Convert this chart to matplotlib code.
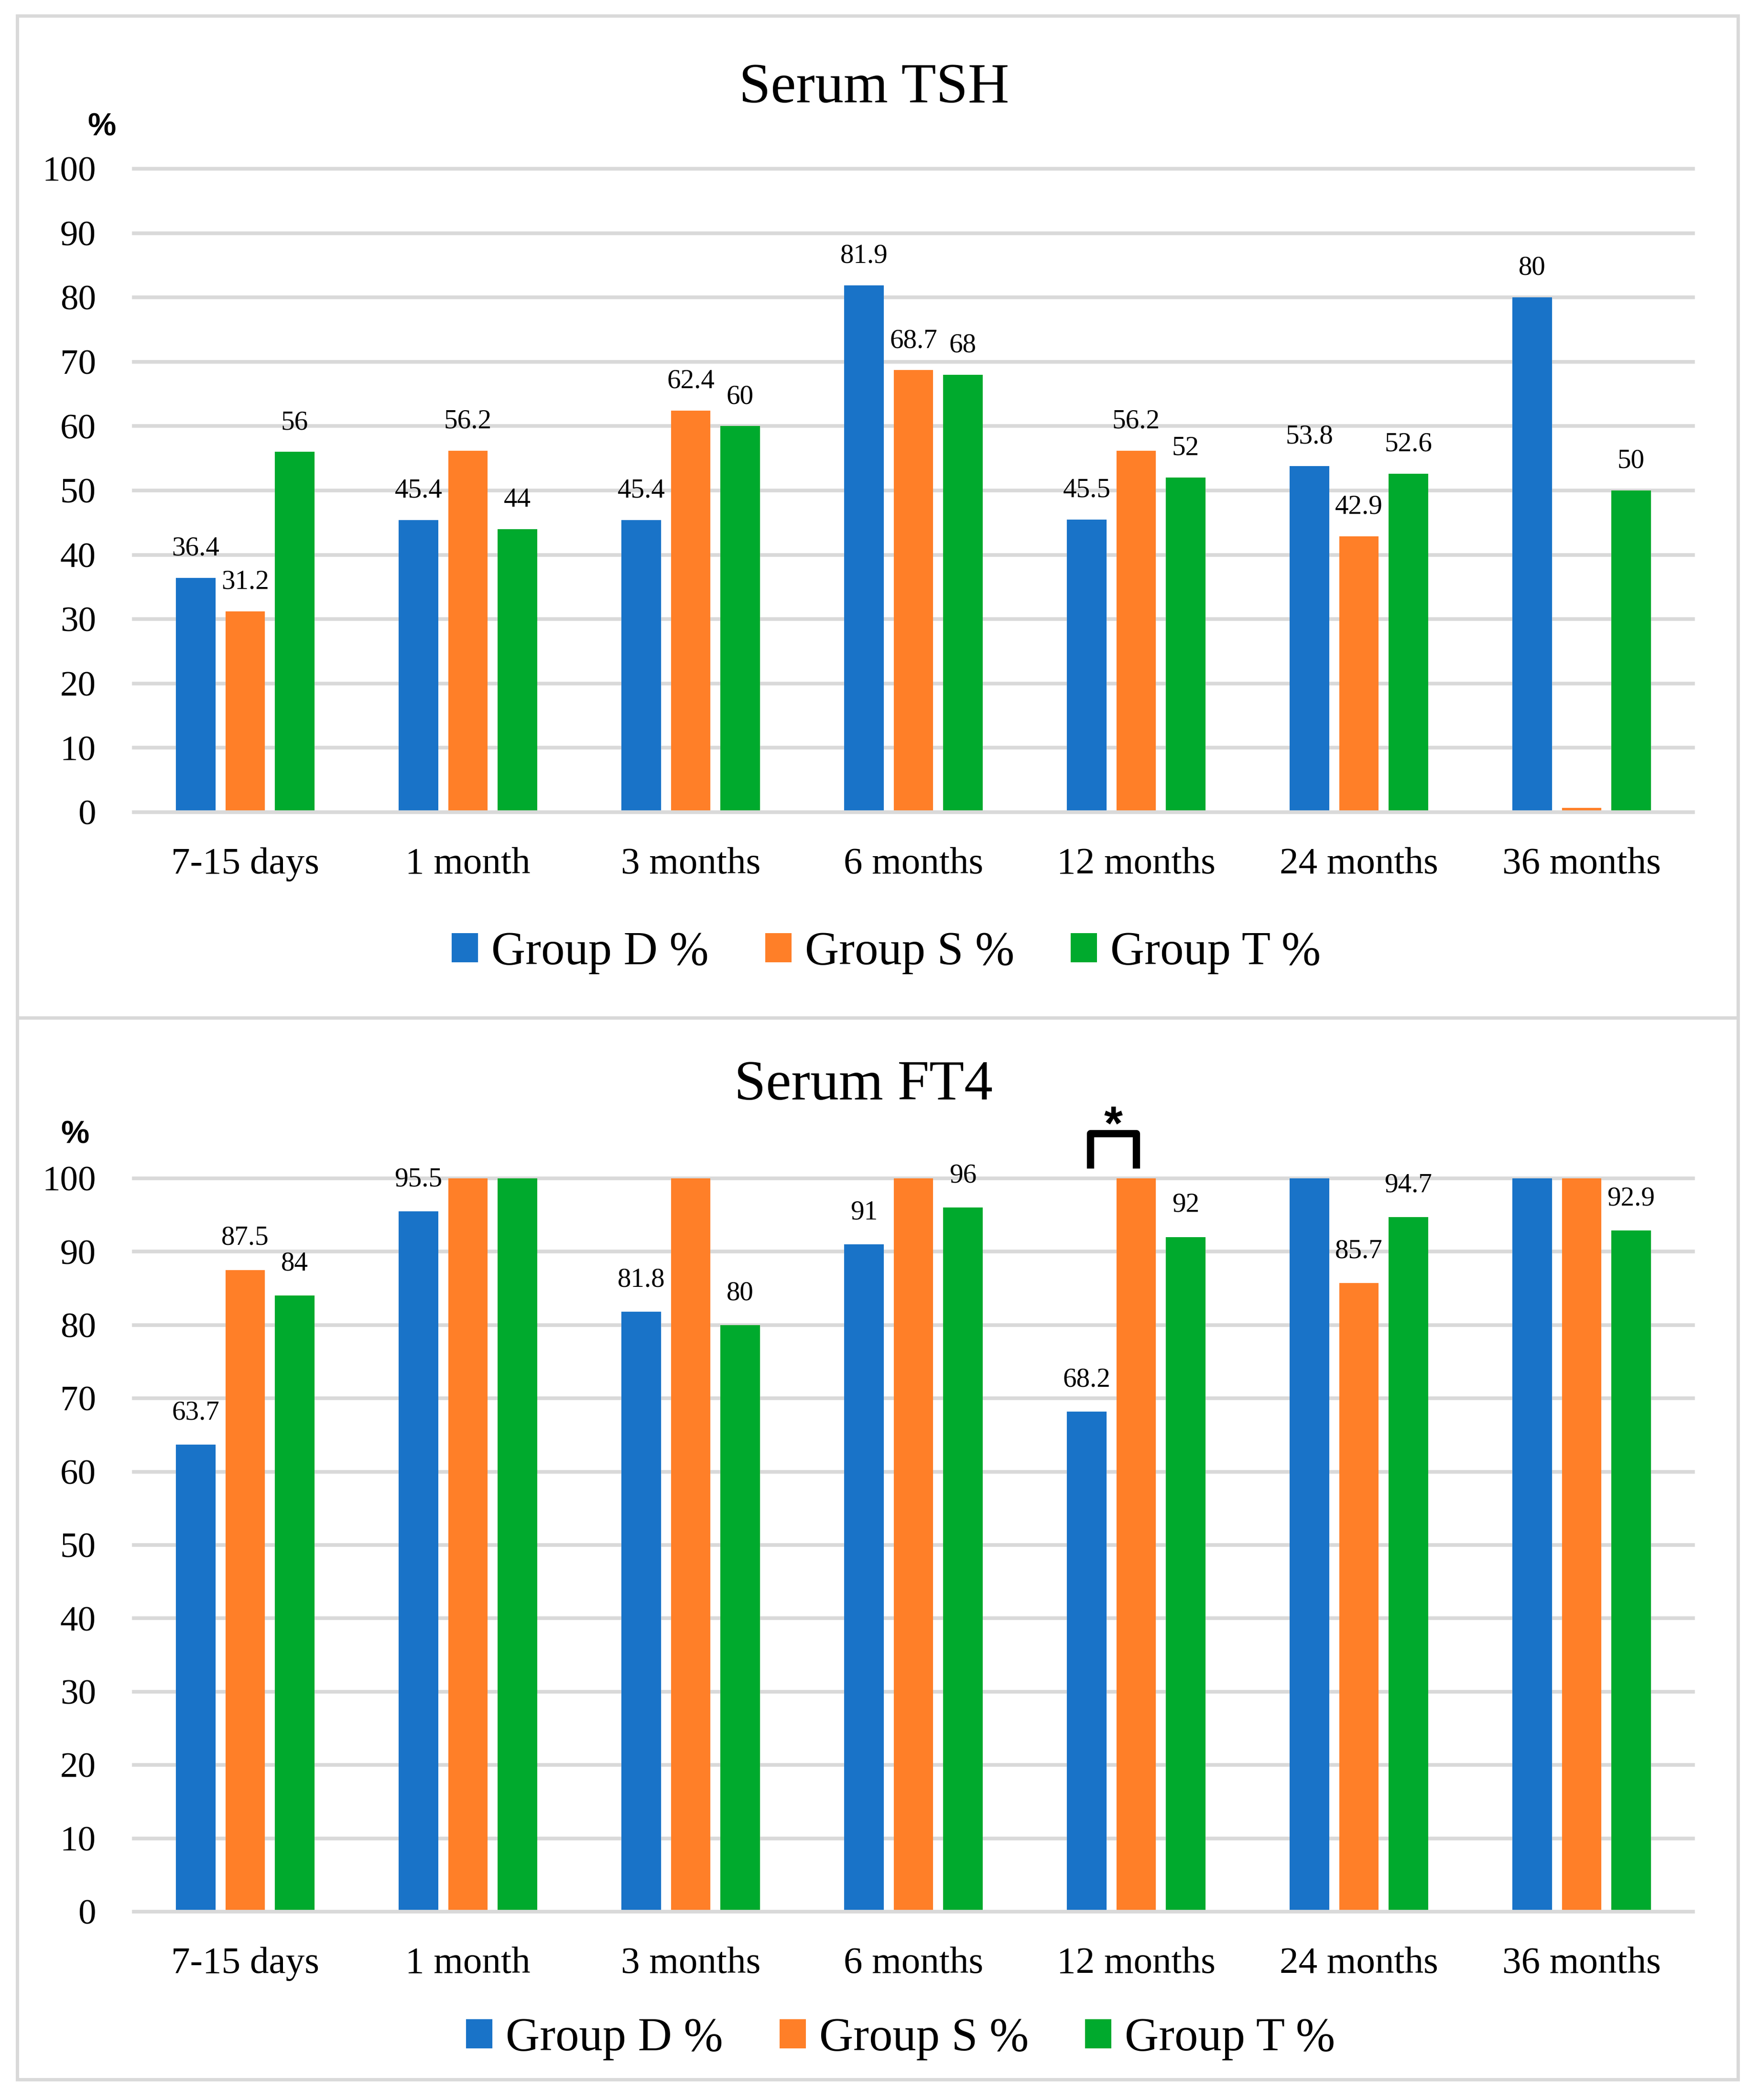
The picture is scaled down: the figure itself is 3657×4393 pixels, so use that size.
import numpy as np
import matplotlib
matplotlib.use('Agg')
from matplotlib import pyplot as plt
from matplotlib.patches import Rectangle, Patch

# data
categories = ['7-15 days', '1 month', '3 months', '6 months', '12 months', '24 months', '36 months']
groups = ['Group D %', 'Group S %', 'Group T %']
colors = ['#1973C8', '#FF7F28', '#00AA2D']

tsh_d = [36.4, 45.4, 45.4, 81.9, 45.5, 53.8, 80]
tsh_s = [31.2, 56.2, 62.4, 68.7, 56.2, 42.9, 0.7]
tsh_t = [56, 44, 60, 68, 52, 52.6, 50]

ft4_d = [63.7, 95.5, 81.8, 91, 68.2, 100, 100]
ft4_s = [87.5, 100, 100, 100, 100, 85.7, 100]
ft4_t = [84, 100, 80, 96, 92, 94.7, 92.9]

yticks = np.arange(0, 101, 10)

W, H = 3657, 4393
GRID = '#D9D9D9'
SERIF = 'Liberation Serif'
SANS = 'Liberation Sans'

plt.rc('font', family=SERIF)

fig = plt.figure(figsize=(W / 100, H / 100), dpi=100)

STEP = 0.222
WIDTH = 0.178


def draw_panel(y100, y0, series, title, title_xy, pct_xy, lab_off, leg_xy):
    ax = fig.add_axes([280 / W, 1 - y0 / H, 3262 / W, (y0 - y100) / H])
    x = np.arange(len(categories))
    for i, vals in enumerate(series):
        xs = x + (i - 1) * STEP
        ax.bar(xs, vals, WIDTH, color=colors[i], zorder=2)
        for xx, v in zip(xs, vals):
            # excel left the tiny bar and the bars at the axis top unlabelled
            if v < 1 or v >= 100:
                continue
            ax.annotate(f'{v:g}', (xx, v), xytext=(0, lab_off), textcoords='offset points',
                        ha='center', va='baseline', fontsize=41)
    ax.set_xlim(-0.5, len(categories) - 0.5)
    ax.set_ylim(0, 100)
    for t in yticks:
        ax.axhline(t, color=GRID, lw=5.5, zorder=3 if t == 0 else 0, clip_on=False)
    for s in ax.spines.values():
        s.set_visible(False)
    ax.set_xticks(x)
    ax.set_xticklabels(categories, fontsize=57)
    ax.set_yticks(yticks)
    ax.set_yticklabels([str(t) for t in yticks], fontsize=54)
    ax.tick_params(axis='both', length=0)
    ax.tick_params(axis='x', pad=53)
    ax.tick_params(axis='y', pad=57)

    fig.text(title_xy[0], 1 - title_xy[1] / H, title, fontsize=86, ha='center', va='baseline')
    fig.text(pct_xy[0] / W, 1 - pct_xy[1] / H, '%', family=SANS, weight='bold', fontsize=48,
             ha='center', va='baseline')

    handles = [Patch(facecolor=c, edgecolor='none') for c in colors]
    fig.legend(handles, groups, loc='center', bbox_to_anchor=leg_xy, ncol=3, frameon=False,
               fontsize=71, handlelength=0.56, handleheight=0.58, handletextpad=0.28,
               columnspacing=1.2, borderpad=0)
    return ax


ax1 = draw_panel(353, 1699, [tsh_d, tsh_s, tsh_t], 'Serum TSH', (0.5, 214), (213, 284), 34,
                 (1854 / W, 1 - 1993 / H))
ax2 = draw_panel(2465, 3999, [ft4_d, ft4_s, ft4_t], 'Serum FT4', (0.494, 2300), (157, 2392), 38,
                 (1884 / W, 1 - 4265 / H))

# significance bracket between group D and group S at 12 months
k = categories.index('12 months')
xl = k - STEP + 0.016
xr = k
ax2.plot([xl, xl, xr, xr], [101.4, 106.1, 106.1, 101.4], color='black', lw=11,
         solid_joinstyle='round', solid_capstyle='butt', clip_on=False, zorder=4)
ax2.text((xl + xr) / 2, 107.0, '*', family=SANS, weight='bold', fontsize=72,
         ha='center', va='center', clip_on=False)

# panel frames
for top, bot in [(33, 2129), (2129, 4350)]:
    fig.add_artist(Rectangle((36 / W, 1 - bot / H), 3600 / W, (bot - top) / H,
                             transform=fig.transFigure, fill=False, edgecolor=GRID, lw=5))

fig.savefig('out.png', dpi=100, facecolor='white')
